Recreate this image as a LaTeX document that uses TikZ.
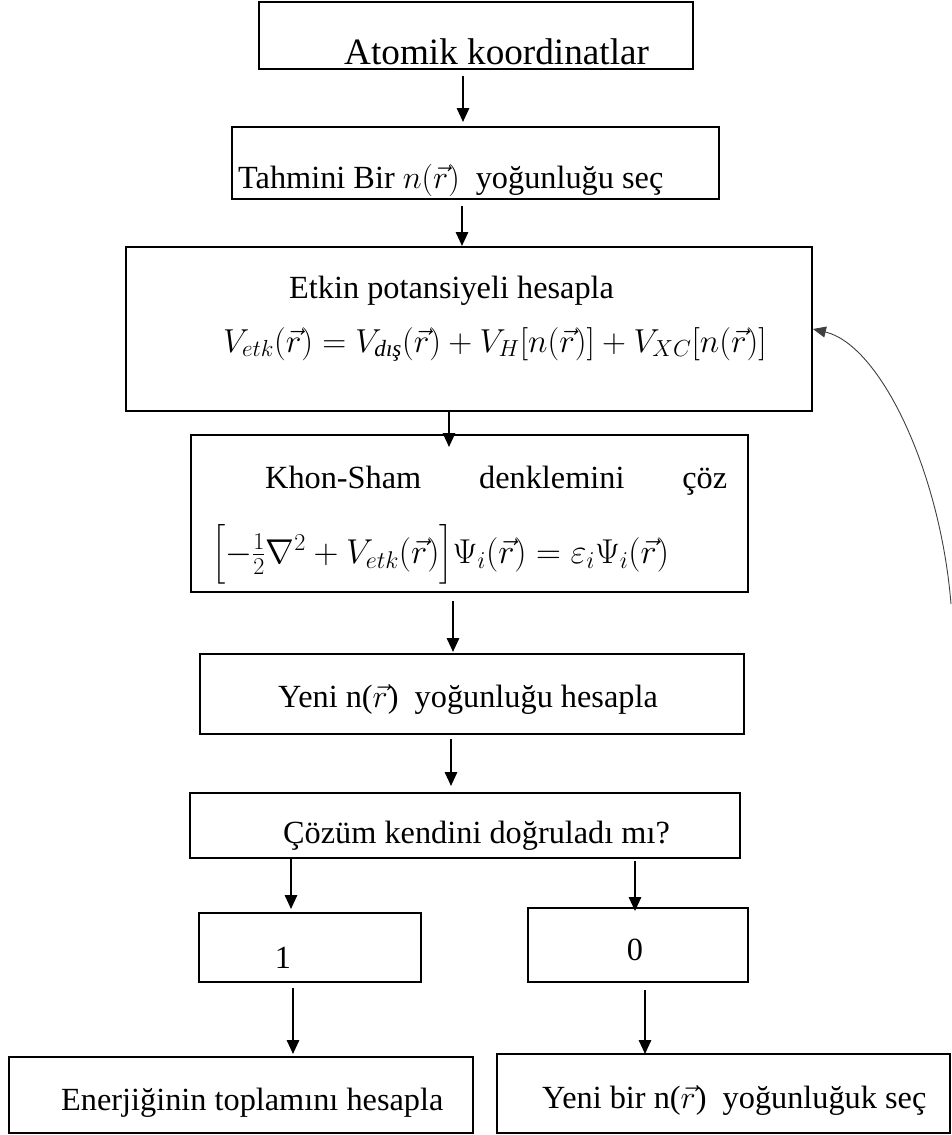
\RequirePackage{fix-cm}
\documentclass[tikz,border=0pt]{standalone}
\usepackage{amsmath}
\usepackage{fontspec}
\setmainfont{Liberation Serif}
\usetikzlibrary{arrows.meta,fit}
\begin{document}
\begin{tikzpicture}[x=1pt,y=-1pt,
  box/.style={draw, line width=1.8pt, rectangle, inner sep=0pt},
  txt/.style={anchor=base west, inner sep=0pt, font=\fontsize{32.3}{38}\selectfont},
  ctxt/.style={txt, anchor=base},
  arr/.style={line width=2.7pt, -{Triangle[length=14pt,width=12pt]}},
  back/.style={line width=0.9pt, draw=black!75, -{Triangle[length=13pt,width=11pt]}}]
\useasboundingbox (0,0) rectangle (952,1135);
% boxes
\node[box, fit={(259,2) (693,69)}] (b1) {};
\node[box, fit={(232,127) (719,199)}] (b2) {};
\node[box, fit={(126,247) (812,411)}] (b3) {};
\node[box, fit={(191,435) (748,592)}] (b4) {};
\node[box, fit={(200,654) (744,734)}] (b5) {};
\node[box, fit={(190,793) (740,858)}] (b6) {};
\node[box, fit={(199,913) (421,982)}] (b7) {};
\node[box, fit={(528,908) (748,982)}] (b8) {};
\node[box, fit={(9,1057) (473,1133)}] (b9) {};
\node[box, fit={(497,1054) (950,1133)}] (b10) {};
% texts
\node[txt, font=\fontsize{37.2}{44}\selectfont] (t1) at (344,64) {Atomik koordinatlar};
\node[txt] (t2) at (238,188) {Tahmini Bir $n(\vec{r})$\ \ yoğunluğu seç};
\node[txt] (t3) at (289,298) {Etkin potansiyeli hesapla};
\node[txt, font=\fontsize{33.2}{40}\selectfont] (e1) at (223,352) {$V_{etk}(\vec{r})=V_{\text{\normalfont\itshape dış}}(\vec{r})+V_H[n(\vec{r})]+V_{XC}[n(\vec{r})]$};
\node[txt] (t4) at (265,488) {\makebox[462pt][l]{Khon-Sham\hfill denklemini\hfill çöz}};
\node[txt, font=\fontsize{34.5}{40}\selectfont] (e2) at (212,563) {$\Bigl[-\tfrac{1}{2}\nabla^2+V_{etk}(\vec{r})\Bigr]\Psi_i(\vec{r})=\varepsilon_i\Psi_i(\vec{r})$};
\node[txt] (t5) at (278,707) {Yeni n($\vec{r}$)\ \ yoğunluğu hesapla};
\node[txt] (t6) at (283,843) {Çözüm kendini doğruladı mı?};
\node[ctxt] (t7) at (283,968) {1};
\node[ctxt] (t8) at (635,960) {0};
\node[txt] (t9) at (61,1110) {Enerjiğinin toplamını hesapla};
\node[txt] (t10) at (542,1108) {Yeni bir n($\vec{r}$)\ \ yoğunluğuk seç};
% x positions of arrows
\coordinate (x1) at (463,0);
\coordinate (x2) at (462,0);
\coordinate (x3) at (449,0);
\coordinate (x4) at (453,0);
\coordinate (x5) at (451,0);
\coordinate (x6) at (291,0);
\coordinate (x7) at (635,0);
\coordinate (x8) at (293,0);
\coordinate (x9) at (645,0);
% arrows
\draw[arr, shorten <=6pt, shorten >=4pt] (b1.south -| x1) -- (b2.north -| x1);
\draw[arr, shorten <=6pt] (b2.south -| x2) -- (b3.north -| x2);
\draw[arr, shorten >=-13pt] (b3.south -| x3) -- (b4.north -| x3);
\draw[arr, shorten <=8pt, shorten >=1pt] (b4.south -| x4) -- (b5.north -| x4);
\draw[arr, shorten <=4pt, shorten >=6pt] (b5.south -| x5) -- (b6.north -| x5);
\draw[arr, shorten >=3pt] (b6.south -| x6) -- (b7.north -| x6);
\draw[arr, shorten <=2pt, shorten >=-4pt] (b6.south -| x7) -- (b8.north -| x7);
\draw[arr, shorten <=5pt, shorten >=2pt] (b7.south -| x8) -- (b9.north -| x8);
\draw[arr, shorten <=7pt, shorten >=-1pt] (b8.south -| x9) -- (b10.north -| x9);
% feedback curve
\coordinate (cs) at (951,604);
\draw[back] (cs) .. controls (940,470) and (880,345) .. (b3.east);
\end{tikzpicture}
\end{document}
